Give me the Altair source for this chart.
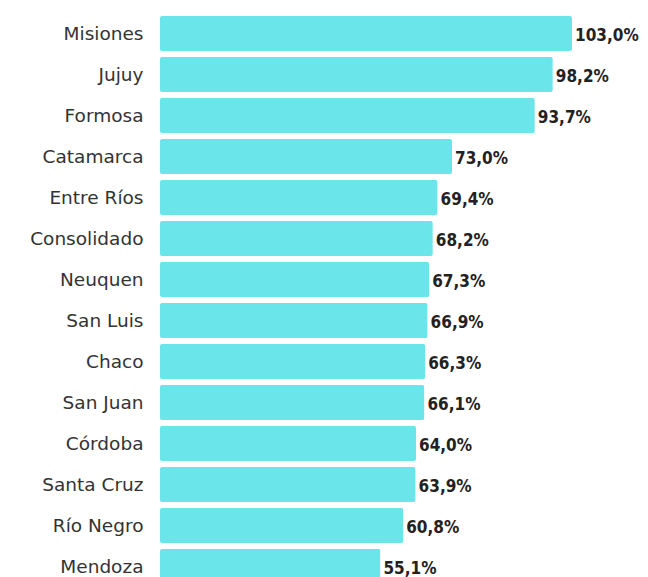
import altair as alt
import pandas as pd

provinces = ["Misiones", "Jujuy", "Formosa", "Catamarca", "Entre Ríos", "Consolidado",
             "Neuquen", "San Luis", "Chaco", "San Juan", "Córdoba", "Santa Cruz",
             "Río Negro", "Mendoza"]
values = [103.0, 98.2, 93.7, 73.0, 69.4, 68.2, 67.3, 66.9, 66.3, 66.1, 64.0, 63.9, 60.8, 55.1]

df = pd.DataFrame({
    "prov": provinces,
    "val": values,
    "label": [f"{v:.1f}".replace(".", ",") + "%" for v in values],
})

FONT = "DejaVu Sans"

y = alt.Y("prov:N", sort=None, title=None,
          scale=alt.Scale(paddingInner=0.146, paddingOuter=0.073, range=[0, 574]),
          axis=alt.Axis(ticks=False, domain=False, grid=False, labelPadding=17,
                        labelFontSize=18.5, labelFont=FONT, labelColor="#333333",
                        labelLimit=200))
x = alt.X("val:Q", title=None, scale=alt.Scale(domain=[0, 120], nice=False, zero=True),
          axis=None)

bars = alt.Chart(df).mark_bar(color="#6AE5E9", cornerRadius=2).encode(x=x, y=y)
text = alt.Chart(df).mark_text(align="left", baseline="middle", dx=3, dy=2,
                               font="DejaVu Sans Condensed", fontSize=17, fontWeight="bold",
                               color="#222222").encode(x=x, y=y, text="label:N")

chart = (bars + text).properties(
    width=480, height=564,
    padding={"top": 5, "left": 152, "right": 0, "bottom": 0},
    autosize=alt.AutoSizeParams(type="none"),
    background="white",
).configure_view(stroke=None, strokeWidth=0)

chart.save("out.html", embed_options={"renderer": "svg", "actions": False})
